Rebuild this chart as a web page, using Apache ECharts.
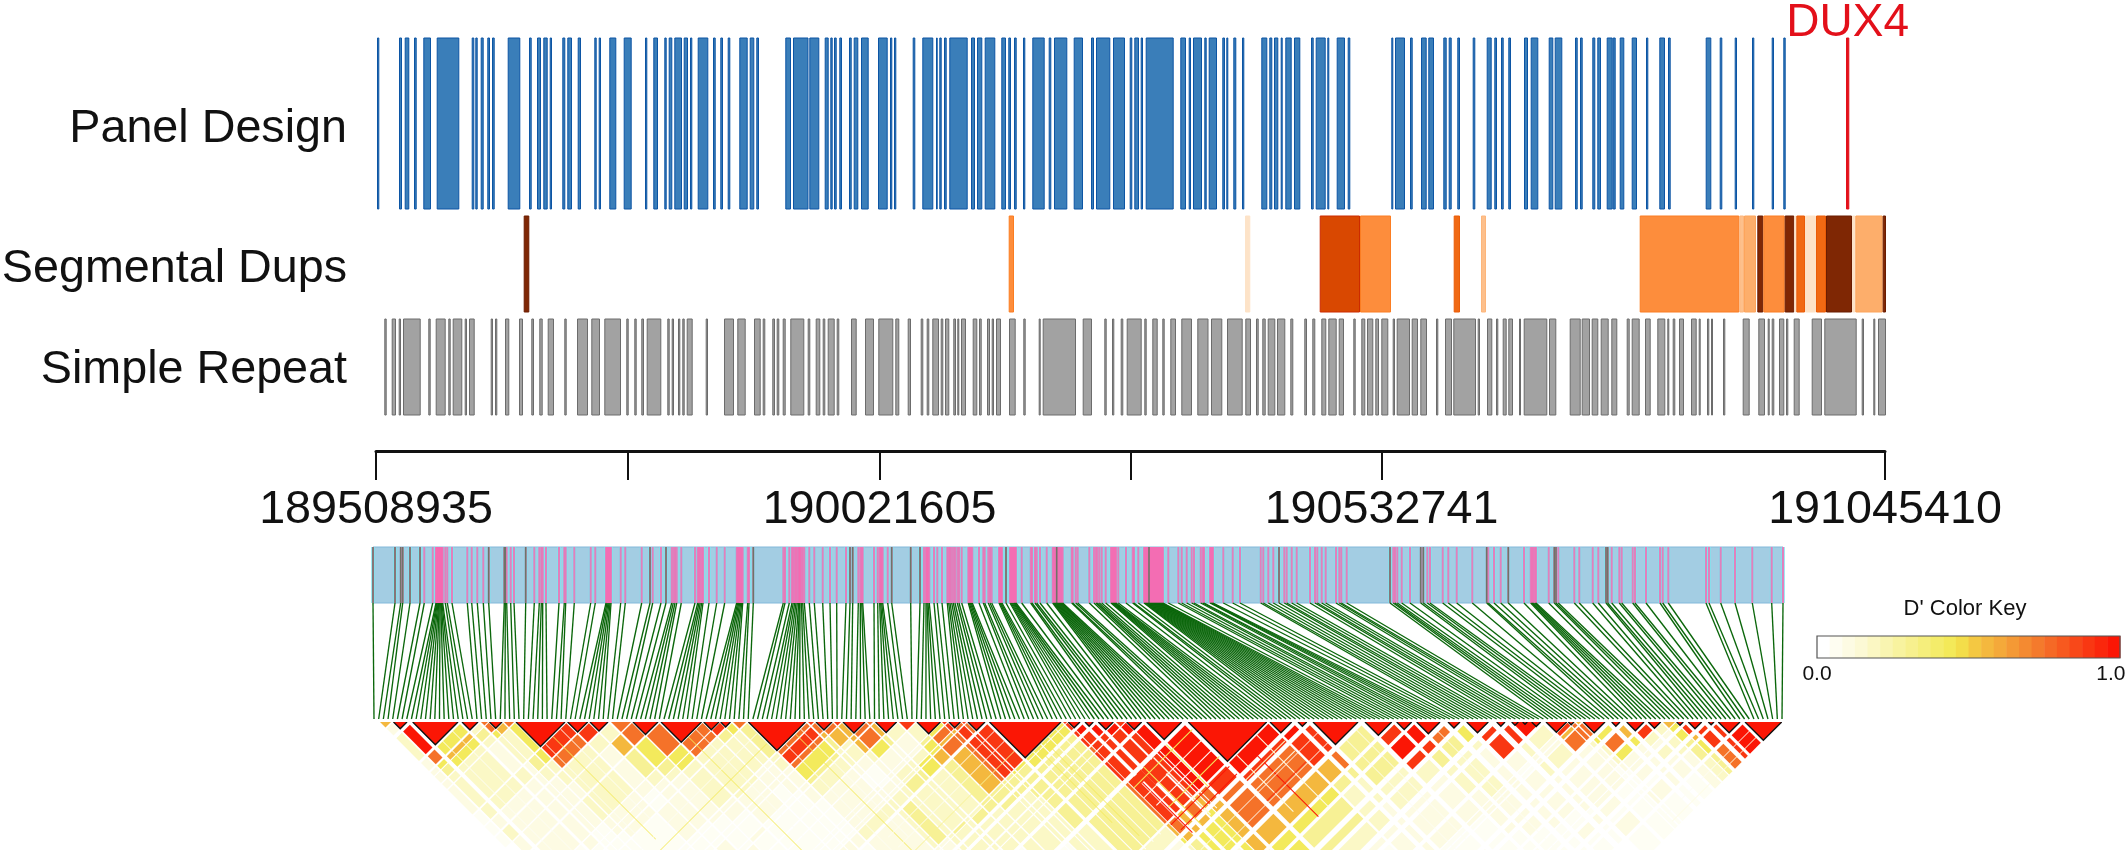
<!DOCTYPE html>
<html>
<head>
<meta charset="utf-8">
<title>Panel design and LD</title>
<script src="https://cdn.jsdelivr.net/npm/echarts@6/dist/echarts.min.js"></script>
<style>
  html, body { margin: 0; background: #fff; }
  #chart { width: 2128px; height: 855px; }
</style>
</head>
<body>
<div id="chart"></div>
<script>
// genome axis
const genomeStart = 189508935;
const genomeEnd = 191045410;
const axisTicks = [189508935, 189765270, 190021605, 190277173, 190532741, 191045410];
const axisLabels = [189508935, 190021605, 190532741, 191045410];
const binsOnAxis = 1509; // track positions below are in bins of about 1 kb from genomeStart

const panelDesign = [[1,3.3],[23,26],[28.7,33.3],[38,40.7],[47.3,55],[60.7,83.3],[95.7,98.3],[99.3,101.7],[104.7,107.7],[111.3,114],[116,118.7],[131.7,144.3],[153,155.7],[161,165],[167.3,171.7],[173.7,176],[186.3,189.3],[191.3,196],[201.7,205],[218.3,220.7],[222.7,225],[233.3,240.3],[247.7,255.7],[269,271.3],[277.3,282],[288.3,290.7],[292.7,296.3],[298.3,306],[307.7,312],[314,316.3],[321.7,332.3],[337,339.7],[344.3,347],[351.7,354.3],[363.3,371.7],[373.7,378.3],[380.3,383],[409.3,415],[417,432.5],[433.3,443.3],[448.7,452.7],[454.3,456.7],[458,460.7],[463.3,466],[473,475.7],[477.7,482.3],[485,492.7],[502,511.7],[514,516.3],[518,520.3],[536.7,539.3],[546.3,557.3],[560,561.7],[563.3,565.7],[568,570.7],[573.3,591.7],[595,599],[601,606.3],[608.7,619.3],[625.3,630],[632.3,635],[638,640.7],[647,649.3],[656.3,668.7],[672.7,675.3],[678,691.3],[697.7,707],[715,718],[720,734.3],[737,749],[753.7,756.3],[758.3,763],[764.7,767],[769.7,797.7],[804.3,810],[812.7,815],[817,826],[828.3,830.7],[832.7,841],[846.3,849],[850.3,852.3],[857.3,860.3],[866,868.3],[885.3,891.3],[893.3,896.3],[898,902.3],[904.7,906.7],[909.3,915.7],[918,924.3],[935,937.7],[939.7,949.7],[951.3,953.3],[960.7,969],[971.7,974.3],[1015.3,1017.3],[1019,1029],[1034,1036.7],[1045,1050.7],[1052.3,1058],[1067.3,1070.7],[1072.7,1075.7],[1081.3,1084],[1096.7,1099.3],[1110.7,1115.7],[1118.3,1121],[1125,1127.7],[1132.3,1135],[1148,1152],[1154.7,1162.3],[1172.7,1177.3],[1178.7,1186.3],[1199,1201.7],[1204,1206.7],[1216.3,1219.3],[1221.3,1225],[1230.7,1236.7],[1236.7,1239.7],[1243.7,1248.3],[1255.7,1261],[1270,1272.3],[1283.3,1289],[1292,1294.7],[1329.7,1335.3],[1343.7,1346.3],[1358.7,1361],[1376,1378.3],[1395.7,1398],[1407.3,1409.7]];
const dux4Gene = [1470, 1473.3];

// [start, end, identity class]
const segDups = [[147.7,153.3,6],[632.7,638,3],[869,874.3,0],[943.7,984,5],[984,1015,3],[1077.7,1084,4],[1105,1110,1],[1263.7,1363.3,3],[1363.3,1368,1],[1368,1380,2],[1381.3,1387.3,6],[1387.3,1408.7,3],[1408.7,1418.3,6],[1418.3,1420,0],[1420.3,1429,4],[1429,1440,0],[1440,1450,4],[1450,1476,6],[1476,1479.3,0],[1479.3,1506.7,2],[1506.7,1510,6]];

const simpleRepeat = [[8.3,10.7],[15.7,20],[22.7,25],[27,44.7],[52.3,54.7],[59.7,69.7],[72.3,74.7],[76.7,86.3],[88.7,91],[93,98.7],[114.7,117],[119,121.3],[129,133.3],[143,147],[155.3,158],[163.3,166.7],[171.7,178],[188.3,190.7],[201,212],[215.3,224],[228.3,245],[250.3,252.7],[258.3,260.7],[265.3,268],[270.7,285.3],[291.3,293.7],[295.7,298],[302,304.3],[306.3,308.7],[310.7,316.7],[329.7,332],[348,358],[361.3,369.7],[378,384.7],[386.7,389.3],[396.3,399],[400.7,403.3],[406.7,409.7],[414.3,428.3],[431.7,434.3],[439.7,444.3],[446.7,449.3],[451.7,458.7],[460.7,463.3],[475,480.7],[489,498],[502.3,517.3],[519.3,523.3],[531.7,535],[544.7,547.3],[550.7,553.3],[556.3,563],[564.7,567.3],[569,573.3],[577.3,580],[581.3,583.3],[585,590],[596.7,601.3],[603,605.7],[611,614],[615.7,618],[620,625],[633,639.7],[647.3,649.7],[662.7,664.7],[666.7,700],[706.7,716],[728.3,730.7],[736,738.3],[744.7,747.3],[750.7,765.7],[768.3,770.7],[776.3,781.7],[786.3,788.7],[794.3,800],[805.3,816],[821.3,832.5],[835,846.3],[851,866.7],[869.3,875],[880,882.7],[886.3,889.7],[891.7,899.3],[901,909.3],[914.3,917.3],[928.3,931],[936.3,939.3],[945.3,950.3],[952.3,960.7],[962.7,968],[977.3,979.7],[985.3,989.3],[991,997.3],[999.3,1003],[1005.3,1012.3],[1016.7,1019],[1020.7,1034],[1035.7,1042],[1044.3,1051],[1060,1062.3],[1069,1076],[1077.3,1100],[1101.7,1104],[1111,1116.3],[1120,1122.3],[1126.7,1130.7],[1132.3,1137],[1143,1145],[1147.7,1171.3],[1173,1180.3],[1193.7,1204.7],[1205.7,1214],[1215.7,1222.3],[1224.7,1232.7],[1235.3,1241.3],[1250.7,1253.7],[1255.7,1263.7],[1269,1274.7],[1281.3,1289.3],[1291.3,1293.3],[1296.7,1299.3],[1303,1308],[1315,1320.7],[1322.7,1324.7],[1331,1333.3],[1335,1337],[1347,1349.3],[1366.7,1373.7],[1382.3,1389],[1391.7,1393.7],[1395.7,1398.3],[1403,1408.3],[1410,1412.3],[1417.7,1423.7],[1435.7,1446],[1448.3,1480.7],[1485.7,1488],[1497.3,1499.3],[1502,1510]];

// SNP positions along the LD map bar, about 1 unit per pixel
const snpPositions = [0,22,27.7,29.7,37,47,51.3,59.7,63,63.7,64.3,65,65.7,66.3,67,67.7,68.3,69,69.7,72.3,74.3,79,94.3,98.7,104.3,110.3,115.7,131.3,132.3,133.7,137.7,141,152.7,161.3,166.3,168.3,169.7,173,186,191.3,192.7,201.3,217.7,222.3,233,234,235,236,237,238,247.7,252.3,268.7,277,279.7,288,293,298.7,300.3,302,303.7,308.3,322,324.7,326,327.3,328.7,330,336,343.7,351.7,363.7,364.7,365.7,366.7,367.7,368.7,369.7,374.7,376,380.3,410.3,412,416.3,419,420.3,421.7,423,424.3,425.7,426.5,427,428.5,429.7,431.3,436.3,441.3,449.7,457,463.7,473,
  477,479.7,485.3,487.3,488.7,489.7,501,504.7,506.7,507.7,508.7,509.7,514.7,518.7,537.7,547,551,553,554,555,556.3,561,564.3,569,574.3,
  575.7,577,578.7,580.3,582,584.3,586,588.7,595.3,596.3,597.3,598.3,599.3,606,610.3,611.7,615.3,617,618.7,626,627,628,629,633,637,638,639,640,641,642,643,648.7,657.7,659,662,663.7,667,673.7,679.7,680.7,681.7,682.7,683.7,684.7,685.7,686.7,687.7,688.7,689.7,698.7,699.7,702.7,704.7,716.3,721,723,724.3,726.3,728.7,732.7,738,739,740,741,742,743,745.3,753,759.7,761,765.3,771,772,773,774,775,776,777,778,779,780,781,782,783,784,785,786,787,788,789,790,795.3,805.3,808.7,813.7,818.7,821,827.7,829.7,831,837,838,839,840,850.3,859.7,867,887.7,890.3,895.3,900.3,906,911.3,913.7,918.7,923.7,937,942,944.3,948.7,952.7,963,966.3,968.3,973.7,
  1017,1020.3,1022,1024.3,1028.7,1037,1047.7,1050.3,1054.3,1057,1069.7,1075.3,1083.7,1099.3,1113.7,1115.3,1121,1127.7,1135.3,1151,1157.7,1159,1160.3,1161.7,1163,1175.7,1181.3,1183,1185.3,1201.3,1206.3,1219.7,1225.3,1233,1234.7,1238.7,1246.3,1248.7,1259.7,1262,1273,1287,1289.7,1295.3,1333,1336,1347.7,1362,1379.3,1398.7,1410];
const darkSnps = [0,22,27.7,29.7,37,47,115.7,131.3,132.3,152.7,277,293,380.3,477,479.7,518.7,537.7,547,633,683.7,776,906,1017,1047.7,1050.3,1113.7,1135.3,1181.3,1183,1233,1234.7];

// LD segments along the triangle base, same units as snpPositions
const ldBlocks = [[7,18],[20.5,34],[39.7,85],[89,105],[108,115],[116.5,129],[131,141],[143,192],[194.6,214.7],[217,235],[238,258],[260,285],[288,328.5],[330.7,346],[347.7,357.5],[360,373],[375.4,432.5],[435,441],[443,459],[461,468],[470,492],[494,500],[502.6,523.6],[526,542],[544,567.4],[569,574],[576,587.4],[589,593],[595,612],[616.5,688],[690,694],[695.3,707],[712,720.3],[725.3,740.3],[743,752],[753.7,768.7],[773.7,808.7],[815.3,893.7],[897,918.7],[925,933.7],[940,985],[992,1018.7],[1023.7,1038.7],[1043.7,1067],[1075,1087],[1093.7,1115.3],[1123.7,1132],[1138.7,1167.7],[1173,1193.7],[1195.3,1201],[1203,1208],[1210.3,1232],[1238.7,1247],[1253.7,1271],[1275.3,1287.7],[1290,1302],[1303.7,1310.3],[1315.3,1328.7],[1335.3,1341],[1345.3,1367],[1372,1408.7]];
// D' class inside each segment
const ldInner = [6,9,9,9,7,9,7,9,9,9,7,9,9,9,9,7,9,8,9,8,9,7,9,8,9,8,9,8,9,9,8,9,9,9,8,9,9,9,9,9,9,9,9,9,9,9,9,9,9,8,6,9,9,9,9,6,9,9,9,9,9];
// D' class between a segment and the segments after it
const ldRows = ['2322222111','97543332321','565333222211','3432322222111','753222221111','63432221111','55332322111','87333222111','832221121111','364322211121','7543222111121','7553322112111','77333222111111','8432221111111121','532222111111121','43322221111121','78754322222321','764332122233221','763321122342221','666322223333321','775223343433321','642233433333321','32235533433331','34556444333331','5767644433331','867744433331','788444333331','78544433331','8544444431','5544444432','88878876532','9888887642','988886652','98887652','98865552','99766652','98776553','9876544321','9864333221','8743322221','444332221111','8983222211111','98433222221111','743332222211111','532222222211111','882112222112111','83223222212110','3223222222121','867222221111','77322111111','7533211121','575222121','65222221','8323221','323322','55443','8654','887','88','9',''];
// thin bands across the segments: [u from, u to, v from, v to, D' class]
const ldStripes = [[50,51,88,330,1],[70,71,88,330,1],[150,151,195,400,1],[165,166,195,400,5],[180,181,195,420,1],[300,301,330,590,5],[315,316,330,600,1],[390,391,435,680,1],[410,411,435,680,5],[420,421,435,650,1],[130,372,395,396,1],[130,372,415,416,5],[630,631.5,690,900,0],[638,639,690,840,5],[645,646.5,690,900,0],[652,653,690,880,5],[660,661.5,690,900,1],[675,676,690,900,0],[400,612,630,631,1],[400,612,650,651,1],[400,612,670,671,4],
  [720,752,816,845,8],[700,716,816,830,8],[744,746,816,930,2],[757,758.5,816,930,0],[770,771.5,816,900,5],[725,726.5,816,930,5],[708,709.5,830,930,9],[695,812,826,827.5,5],[695,812,846,847.5,2],[700,812,866,867.5,0],[710,812,880,881.5,5],[695,812,900,901.5,9],[700,812,915,916.5,9],
  [830,831.5,897,1010,2],[850,851.5,897,1040,9],[870,871.5,897,1040,2],[815,893,930,931.5,3],[815,893,950,951.5,2],[815,893,972,973.5,8],[955,956,990,1230,1],[975,976,990,1230,1],[700,935,955,956,1],[700,935,975,976,1],[1055,1056,1070,1320,1],[1200,1368,1385,1386,1],[1200,1368,1398,1399,2]];
// outlined haplotype blocks
const hapBlocks = [[20.5,34],[39.7,85],[89,105],[116.5,129],[143,192],[194.6,214.7],[217,235],[260,285],[288,328.5],[330.7,346],[347.7,357.5],[375.4,432.5],[443,459],[470,492],[502.6,523.6],[544,567.4],[576,587.4],[595,612],[616.5,688],[695.3,707],[712,720.3],[725.3,740.3],[753.7,768.7],[773.7,808.7],[815.3,893.7],[897,918.7],[925,933.7],[940,985],[992,1018.7],[1023.7,1038.7],[1043.7,1067],[1075,1087],[1093.7,1115.3],[1123.7,1132],[1138.7,1145.3],[1149.7,1154.3],[1158.7,1167.7],[1173,1193.7],[1195.3,1201],[1210.3,1232],[1238.7,1247],[1253.7,1271],[1275.3,1287.7],[1303.7,1310.3],[1315.3,1328.7],[1335.3,1341],[1345.3,1367],[1372,1408.7]];

const dClassValues = [0, 0.03, 0.08, 0.16, 0.3, 0.46, 0.6, 0.78, 0.92, 1];
const colorKeySteps = [0, 0.04, 0.08, 0.12, 0.17, 0.22, 0.27, 0.32, 0.37, 0.42, 0.47, 0.52, 0.56, 0.6, 0.64, 0.68, 0.72, 0.76, 0.8, 0.84, 0.88, 0.92, 0.96, 1];

// styles
const dupFill = ['#fde3c8', '#fdc08c', '#fdae6b', '#fd8d3c', '#f16913', '#d94801', '#7f2704'];
const dupStroke = ['#fde3c8', '#fdb67c', '#fda55c', '#fb7d22', '#ea5c08', '#cc2a00', '#6b1c00'];
const heatAnchors = [[0, '#ffffff'], [0.5, '#f2e84e'], [0.56, '#f4c842'], [0.75, '#f47e2e'], [1, '#fb1605']];
const font = 'Liberation Sans';

const toBp = bin => genomeStart + bin * (genomeEnd - genomeStart) / binsOnAxis;

function dColor(v) {
  for (let i = 1; i < heatAnchors.length; i++) {
    const [v0, c0] = heatAnchors[i - 1];
    const [v1, c1] = heatAnchors[i];
    if (v <= v1) return echarts.color.lerp((v - v0) / (v1 - v0), [c0, c1]);
  }
  return heatAnchors[heatAnchors.length - 1][1];
}

// one rectangle per interval, full height of its grid, stroke kept inside
const trackItem = (fill, stroke) => (params, api) => {
  const x0 = api.coord([api.value(0), 0])[0];
  const x1 = api.coord([api.value(2), 0])[0];
  const g = params.coordSys;
  const level = api.value(3);
  return {
    type: 'rect',
    shape: { x: x0 + 0.5, y: g.y, width: Math.max(x1 - x0 - 1, 0.5), height: g.height },
    style: {
      fill: fill || dupFill[level],
      stroke: stroke || dupStroke[level],
      lineWidth: 1
    }
  };
};

// vertical stripe on the LD map bar
const stripeItem = (width, color, opacity) => (params, api) => {
  const x = api.coord([api.value(0), 0])[0];
  const g = params.coordSys;
  return {
    type: 'rect',
    shape: { x: x - width / 2, y: g.y, width, height: g.height },
    style: { fill: color, opacity }
  };
};

// a block of pairs u in [a,b], v in [c,d], drawn as a rotated rectangle
function ldCell(params, api) {
  const a = api.value(0), b = api.value(1), c = api.value(2), d = api.value(3);
  const pt = (u, v) => api.coord([(u + v) / 2, (v - u) / 2]);
  const color = dColor(dClassValues[api.value(4)]);
  return {
    type: 'polygon',
    shape: { points: [pt(a, c), pt(a, d), pt(b, d), pt(b, c)] },
    style: { fill: color }
  };
}

function ldTriangle(params, api) {
  const a = api.value(0), b = api.value(1);
  const pts = [api.coord([a, 0]), api.coord([(a + b) / 2, (b - a) / 2]), api.coord([b, 0])];
  return {
    type: 'polygon',
    shape: { points: pts },
    style: { fill: dColor(dClassValues[api.value(2)]) }
  };
}

function hapOutline(params, api) {
  const a = api.value(0), b = api.value(1);
  const pts = [api.coord([a, 0]), api.coord([(a + b) / 2, (b - a) / 2]), api.coord([b, 0])];
  return {
    type: 'polyline',
    shape: { points: pts },
    style: { fill: null, stroke: '#111', lineWidth: 1.4 }
  };
}

const snpCount = snpPositions.length;
function snpConnector(params, api) {
  const top = api.coord([api.value(0), 0]);
  const bottom = api.coord([api.value(1), 1]);
  return {
    type: 'line',
    shape: { x1: top[0], y1: top[1], x2: bottom[0], y2: bottom[1] },
    style: { stroke: '#0a660a', lineWidth: 1.35 }
  };
}

function keyCell(params, api) {
  const x0 = api.coord([api.value(0), 0])[0];
  const x1 = api.coord([api.value(1), 0])[0];
  const g = params.coordSys;
  return {
    type: 'rect',
    shape: { x: x0, y: g.y, width: x1 - x0 + 0.5, height: g.height },
    style: { fill: dColor(api.value(2)) }
  };
}

// decode the LD tables into drawable blocks
const ldCrossData = [];
ldRows.forEach((row, i) => {
  [...row].forEach((ch, k) => {
    const j = i + 1 + k;
    if (j < ldBlocks.length) {
      ldCrossData.push([ldBlocks[i][0], ldBlocks[i][1], ldBlocks[j][0], ldBlocks[j][1], +ch]);
    }
  });
});

const hiddenAxis = (gridIndex, min, max, extra) => Object.assign({
  type: 'value', gridIndex, min, max, show: false
}, extra);
// the rich padding moves the label down from the track centre
const trackY = (gridIndex, name, dropPad) => ({
  type: 'category', gridIndex, data: [name],
  axisLine: { show: false }, axisTick: { show: false },
  axisLabel: {
    margin: 29,
    formatter: v => '{a|' + v + '}',
    rich: { a: { fontFamily: font, fontSize: 46.7, color: '#111', padding: [dropPad, 0, 0, 0] } }
  }
});
const common = { type: 'custom', silent: true, animation: false, progressive: 0 };
const gridBase = { outerBoundsMode: 'none', containLabel: false };
const gridAt = (left, top, width, height) => Object.assign({ left, top, width, height }, gridBase);

const chart = echarts.init(document.getElementById('chart'), null, { renderer: 'canvas' });
chart.setOption({
  backgroundColor: '#fff',
  animation: false,
  title: {
    text: "D' Color Key", left: 1960, top: 593, textAlign: 'center',
    textStyle: { fontFamily: font, fontWeight: 'normal', fontSize: 22, color: '#111' }
  },
  grid: [
    gridAt(376, 38, 1509, 171),
    gridAt(376, 216, 1509, 96),
    gridAt(376, 319, 1509, 96),
    gridAt(376, 450, 1509, 1),
    gridAt(373, 547, 1410, 56),
    gridAt(373, 603, 1410, 116),
    gridAt(373, 722, 1410, 128),
    gridAt(1817, 636, 303, 22)
  ],
  xAxis: [
    {
      type: 'value', gridIndex: 0, position: 'top', min: genomeStart, max: genomeEnd,
      axisLine: { show: false }, axisTick: { show: false }, splitLine: { show: false },
      axisLabel: {
        customValues: [toBp((dux4Gene[0] + dux4Gene[1]) / 2)],
        formatter: () => 'DUX4',
        fontFamily: font, fontSize: 46, color: '#e3101a', margin: -8
      }
    },
    hiddenAxis(1, genomeStart, genomeEnd),
    hiddenAxis(2, genomeStart, genomeEnd),
    {
      type: 'value', gridIndex: 3, min: genomeStart, max: genomeEnd,
      axisLine: { show: true, onZero: false, lineStyle: { color: '#111', width: 3 } },
      axisTick: { show: true, customValues: axisTicks, length: 29, lineStyle: { color: '#111', width: 2 } },
      splitLine: { show: false },
      axisLabel: {
        customValues: axisLabels, formatter: v => String(v),
        fontFamily: font, fontSize: 46.7, color: '#111', margin: 36
      }
    },
    hiddenAxis(4, 0, 1410),
    hiddenAxis(5, 0, 1410),
    hiddenAxis(6, 0, 1410),
    {
      type: 'value', gridIndex: 7, min: 0, max: 1,
      axisLine: { show: false }, axisTick: { show: false }, splitLine: { show: false },
      axisLabel: {
        customValues: [0, 0.97], formatter: v => (v < 0.5 ? '0.0' : '1.0'),
        fontFamily: font, fontSize: 21, color: '#111', margin: 6
      }
    }
  ],
  yAxis: [
    trackY(0, 'Panel Design', 11),
    trackY(1, 'Segmental Dups', 11),
    trackY(2, 'Simple Repeat', 6),
    hiddenAxis(3, 0, 1),
    hiddenAxis(4, 0, 1),
    hiddenAxis(5, 0, 1, { inverse: true }),
    hiddenAxis(6, 0, 128, { inverse: true }),
    hiddenAxis(7, 0, 1)
  ],
  series: [
    Object.assign({}, common, {
      name: 'Panel Design', xAxisIndex: 0, yAxisIndex: 0,
      data: panelDesign.map(([a, b]) => [toBp(a), 0, toBp(b)]),
      renderItem: trackItem('#3a7eb9', '#0c55a4')
    }),
    Object.assign({}, common, {
      name: 'DUX4', xAxisIndex: 0, yAxisIndex: 0,
      data: [[toBp(dux4Gene[0]), 0, toBp(dux4Gene[1])]],
      renderItem: trackItem('#e3101a', '#e3101a')
    }),
    Object.assign({}, common, {
      name: 'Segmental Dups', xAxisIndex: 1, yAxisIndex: 1,
      data: segDups.map(([a, b, c]) => [toBp(a), 0, toBp(b), c]),
      renderItem: trackItem()
    }),
    Object.assign({}, common, {
      name: 'Simple Repeat', xAxisIndex: 2, yAxisIndex: 2,
      data: simpleRepeat.map(([a, b]) => [toBp(a), 0, toBp(b)]),
      renderItem: trackItem('#a2a2a2', '#6c6c6c')
    }),
    Object.assign({}, common, {
      name: 'LD map bar', xAxisIndex: 4, yAxisIndex: 4,
      data: [[0, 0, 1410]],
      renderItem: (params, api) => {
        const x0 = api.coord([api.value(0), 0])[0];
        const x1 = api.coord([api.value(2), 0])[0];
        const g = params.coordSys;
        return {
          type: 'rect',
          shape: { x: x0, y: g.y, width: x1 - x0, height: g.height },
          style: { fill: '#a3cde3', stroke: '#83b9da', lineWidth: 1 }
        };
      }
    }),
    Object.assign({}, common, {
      name: 'SNP halo', xAxisIndex: 4, yAxisIndex: 4,
      data: snpPositions.map(p => [p, 0]),
      renderItem: stripeItem(4, '#7de3ee', 0.75)
    }),
    Object.assign({}, common, {
      name: 'SNP', xAxisIndex: 4, yAxisIndex: 4,
      data: snpPositions.map(p => [p, 0]),
      renderItem: stripeItem(2, '#f768b0', 0.8)
    }),
    Object.assign({}, common, {
      name: 'SNP dark', xAxisIndex: 4, yAxisIndex: 4,
      data: darkSnps.map(p => [p, 0]),
      renderItem: stripeItem(1.6, '#6f7468', 1)
    }),
    Object.assign({}, common, {
      name: 'SNP connectors', xAxisIndex: 5, yAxisIndex: 5,
      data: snpPositions.map((p, i) => [p, 1 + i * 1408 / (snpCount - 1)]),
      renderItem: snpConnector
    }),
    Object.assign({}, common, {
      name: 'D prime between segments', xAxisIndex: 6, yAxisIndex: 6, clip: true,
      data: ldCrossData.concat(ldStripes),
      renderItem: ldCell
    }),
    Object.assign({}, common, {
      name: 'D prime inside segments', xAxisIndex: 6, yAxisIndex: 6, clip: true,
      data: ldBlocks.map(([a, b], i) => [a, b, ldInner[i]]),
      renderItem: ldTriangle
    }),
    Object.assign({}, common, {
      name: 'Haplotype blocks', xAxisIndex: 6, yAxisIndex: 6, clip: true,
      data: hapBlocks,
      renderItem: hapOutline
    }),
    Object.assign({}, common, {
      name: 'Color key', xAxisIndex: 7, yAxisIndex: 7,
      data: colorKeySteps.map((v, i) => [i / colorKeySteps.length, (i + 1) / colorKeySteps.length, v]),
      renderItem: keyCell
    }),
    Object.assign({}, common, {
      name: 'Color key frame', xAxisIndex: 7, yAxisIndex: 7,
      data: [[0, 0]],
      renderItem: (params) => {
        const g = params.coordSys;
        return {
          type: 'rect',
          shape: { x: g.x, y: g.y, width: g.width, height: g.height },
          style: { fill: null, stroke: '#555', lineWidth: 1.2 }
        };
      }
    })
  ]
});
</script>
</body>
</html>
